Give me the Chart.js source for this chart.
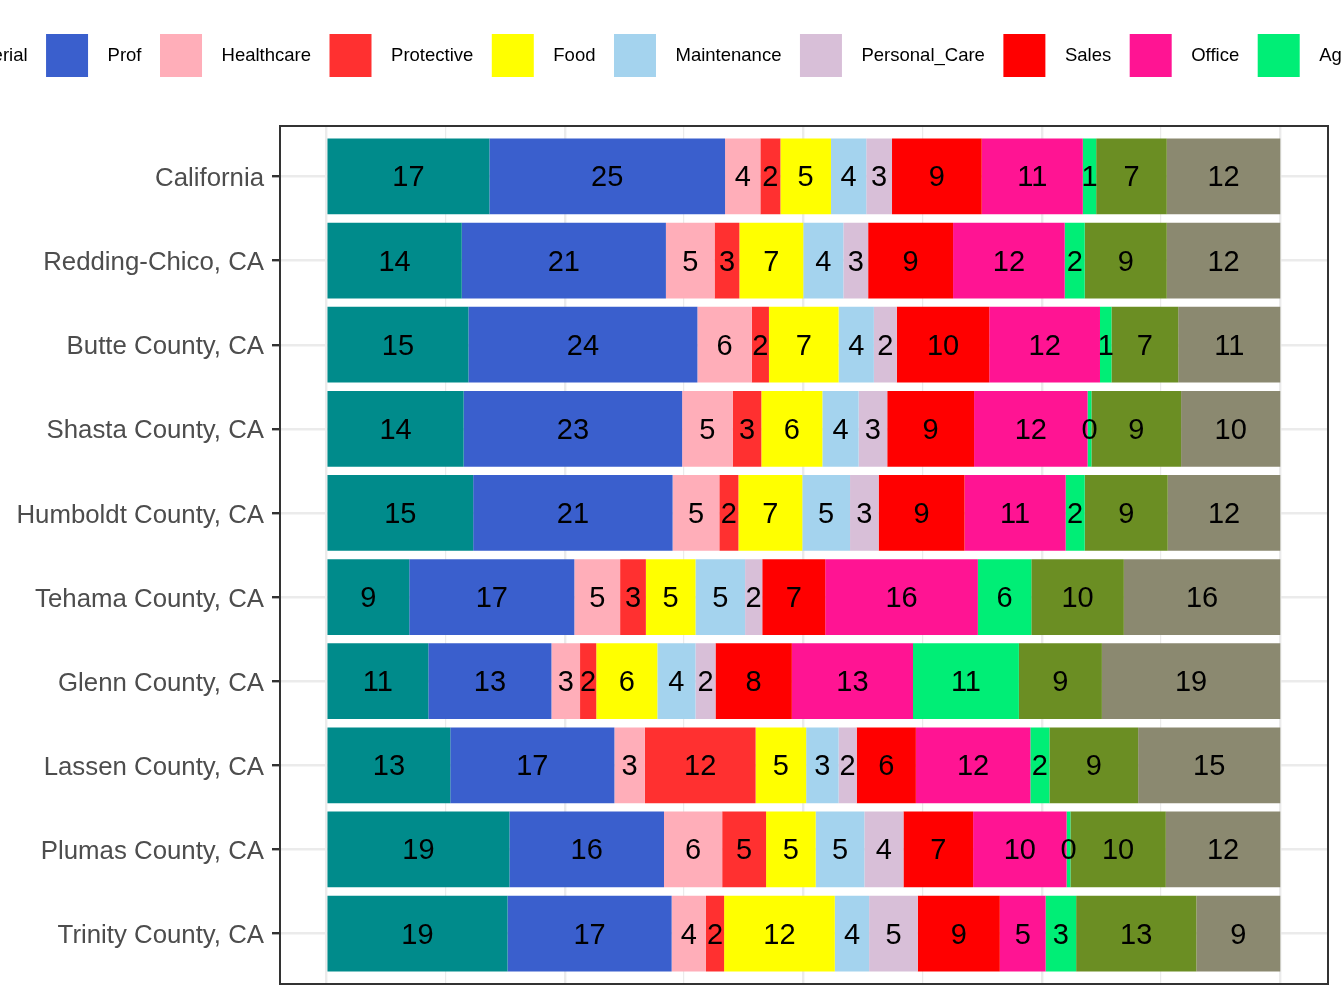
<!DOCTYPE html>
<html>
<head>
<meta charset="utf-8">
<script src="https://cdn.jsdelivr.net/npm/chart.js@4.4.1/dist/chart.umd.min.js"></script>
<style>
  html, body { margin: 0; padding: 0; background: #fff; overflow: hidden; }
  #wrap { position: relative; width: 1344px; height: 1008px; overflow: hidden; }
  #occChart { position: absolute; left: -150px; top: 0; }
</style>
</head>
<body>
<div id="wrap"><canvas id="occChart" width="2200" height="1008"></canvas></div>
<script>
// regions, top to bottom
const regions = ['California', 'Redding-Chico, CA', 'Butte County, CA', 'Shasta County, CA',
  'Humboldt County, CA', 'Tehama County, CA', 'Glenn County, CA', 'Lassen County, CA',
  'Plumas County, CA', 'Trinity County, CA'];

const occupations = ['Managerial', 'Prof', 'Healthcare', 'Protective', 'Food', 'Maintenance',
  'Personal_Care', 'Sales', 'Office', 'Ag', 'Construction', 'Production'];

// share of workers, percent (one value per region)
const managerial   = [17.1, 14.2, 14.9, 14.4, 15.4, 8.7, 10.7, 13.0, 19.2, 19.0];
const prof         = [24.7, 21.4, 24.0, 22.9, 20.9, 17.3, 12.9, 17.2, 16.2, 17.2];
const healthcare   = [3.7, 5.1, 5.7, 5.3, 4.9, 4.8, 3.0, 3.2, 6.1, 3.6];
const protective   = [2.1, 2.6, 1.8, 3.0, 2.0, 2.7, 1.7, 11.6, 4.6, 1.9];
const food         = [5.3, 6.7, 7.3, 6.4, 6.7, 5.2, 6.4, 5.3, 5.2, 11.6];
const maintenance  = [3.7, 4.2, 3.7, 3.8, 5.0, 5.2, 4.0, 3.4, 5.1, 3.6];
const personalCare = [2.7, 2.6, 2.4, 3.0, 3.0, 1.8, 2.1, 1.9, 4.1, 5.1];
const sales        = [9.4, 8.9, 9.7, 9.1, 9.0, 6.6, 8.0, 6.2, 7.3, 8.6];
const office       = [10.6, 11.7, 11.6, 11.9, 10.6, 16.0, 12.7, 12.0, 9.8, 4.8];
const ag           = [1.4, 2.1, 1.2, 0.4, 2.0, 5.6, 11.1, 2.0, 0.4, 3.2];
const construction = [7.4, 8.6, 7.0, 9.4, 8.7, 9.7, 8.7, 9.3, 10.0, 12.6];
const production   = [11.9, 11.9, 10.7, 10.4, 11.8, 16.4, 18.7, 14.9, 12.0, 8.8];

const series = [managerial, prof, healthcare, protective, food, maintenance,
  personalCare, sales, office, ag, construction, production];

const colors = ['#008B8B', '#3A5FCD', '#FFAEB9', '#FF3030', '#FFFF00', '#A4D3EE',
  '#D8BFD8', '#FF0000', '#FF1493', '#00EE76', '#6B8E23', '#8B8970'];

const xTicks = [0, 12.5, 25, 37.5, 50, 62.5, 75, 87.5, 100];

Chart.defaults.font.family = '"Liberation Sans", Arial, sans-serif';

// rounded value in the middle of each segment
const barLabels = {
  id: 'barLabels',
  afterDatasetsDraw(chart) {
    const ctx = chart.ctx;
    ctx.save();
    ctx.font = '29px "Liberation Sans", Arial, sans-serif';
    ctx.fillStyle = '#000';
    ctx.textAlign = 'center';
    ctx.textBaseline = 'middle';
    chart.data.datasets.forEach((ds, i) => {
      chart.getDatasetMeta(i).data.forEach((bar, j) => {
        const p = bar.getProps(['x', 'y', 'base'], true);
        ctx.fillText(String(Math.round(ds.data[j].x)), (p.x + p.base) / 2, p.y + 2);
      });
    });
    ctx.restore();
  }
};

// panel border
const frame = {
  id: 'frame',
  afterDraw(chart) {
    const a = chart.chartArea, ctx = chart.ctx;
    ctx.save();
    ctx.strokeStyle = '#333333';
    ctx.lineWidth = 2;
    ctx.strokeRect(a.left, a.top, a.right - a.left, a.bottom - a.top);
    ctx.restore();
  }
};

new Chart(document.getElementById('occChart'), {
  type: 'bar',
  data: {
    datasets: occupations.map((name, k) => ({
      label: name,
      data: series[k].map((v, i) => ({ x: v, y: i })),
      backgroundColor: colors[k],
      borderWidth: 0,
      barPercentage: 0.9,
      categoryPercentage: 1
    }))
  },
  options: {
    indexAxis: 'y',
    responsive: false,
    animation: false,
    layout: { padding: { left: 6, top: 15.5, right: 0, bottom: 24 } },
    scales: {
      x: {
        type: 'linear', position: 'top', stacked: true, min: -4.85, max: 105,
        afterBuildTicks: s => { s.ticks = xTicks.map(v => ({ value: v })); },
        afterFit: s => { s.height = 39; },
        ticks: { display: false },
        grid: {
          color: '#EBEBEB',
          lineWidth: c => (c.tick && c.tick.value % 25 === 0) ? 2.4 : 1.2,
          drawTicks: false
        },
        border: { display: false }
      },
      y: {
        type: 'linear', stacked: true, reverse: true, min: -0.6, max: 9.6,
        offset: false,
        afterBuildTicks: s => { s.ticks = regions.map((r, i) => ({ value: i })); },
        afterFit: s => { s.width = 424; },
        ticks: {
          callback: v => regions[v],
          color: '#4D4D4D', font: { size: 25.8 }, padding: 8, autoSkip: false,
          labelOffset: 2.5
        },
        grid: {
          offset: false, color: '#EBEBEB', lineWidth: 2.4,
          tickColor: '#333333', tickWidth: 2.4, tickLength: 8
        },
        border: { display: false }
      },
      pad: {
        type: 'linear', position: 'right', display: true,
        afterFit: s => { s.width = 2200 - 1478; },
        ticks: { display: false },
        grid: { display: false },
        border: { display: false }
      }
    },
    plugins: {
      legend: {
        position: 'top',
        align: 'start',
        labels: {
          boxWidth: 42, boxHeight: 43, padding: 18.5, color: '#000',
          font: { size: 18.5 },
          generateLabels: chart => Chart.defaults.plugins.legend.labels.generateLabels(chart)
            .map(it => Object.assign(it, { text: '  ' + it.text, lineWidth: 0 }))
        }
      },
      tooltip: { enabled: false }
    }
  },
  plugins: [barLabels, frame]
});
</script>
</body>
</html>
